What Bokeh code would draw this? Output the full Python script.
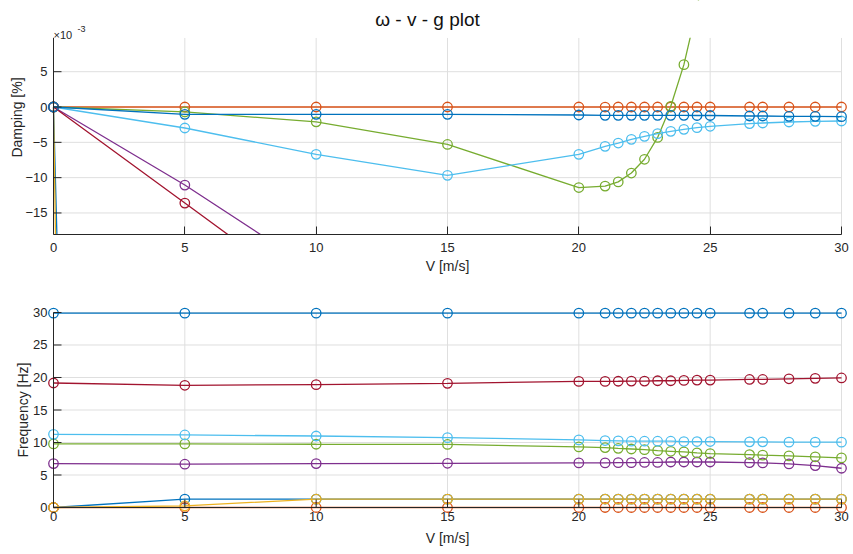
from bokeh.plotting import figure
from bokeh.layouts import column
from bokeh.models import Range1d, FixedTicker, Label
from bokeh.embed import file_html
from bokeh.resources import INLINE

# ---------------- data ----------------
V = [0, 5, 10, 15, 20, 21, 21.5, 22, 22.5, 23, 23.5, 24, 24.5, 25, 26.5, 27, 28, 29, 30]

# damping, in units of 1e-3 %
damp_blue_a = [0, -700, -1350, -2000, -2600, -2700, -2750, -2800, -2850, -2900, -2950, -3000, -3050, -3100, -3250, -3300, -3400, -3500, -3600]
damp_orange = [0, 0, 0, 0, 0, 0, 0, 0, 0, 0, 0, 0, 0, 0, 0, 0, 0, 0, 0]
damp_yellow = [0, -1200, -2300, -3300, -4200, -4350, -4450, -4500, -4600, -4700, -4750, -4800, -4900, -5000, -5200, -5300, -5450, -5600, -5800]
damp_purple = [0, -11.05, -23.2, -35.0, -47.0, -49.5, -50.5, -52.0, -53.0, -54.0, -55.0, -56.5, -57.5, -59.0, -62.0, -63.0, -65.5, -68.0, -70.0]
damp_green = [0, -0.7, -2.1, -5.3, -11.4, -11.2, -10.6, -9.35, -7.4, -4.3, 0.1, 6.0, 14.0, 24.0, 60.0, 72.0, 95.0, 120.0, 145.0]
damp_lblue = [0, -2.97, -6.7, -9.67, -6.7, -5.57, -5.1, -4.58, -4.15, -3.77, -3.44, -3.16, -2.92, -2.73, -2.35, -2.26, -2.12, -2.03, -1.98]
damp_dred = [0, -13.6, -27.2, -40.0, -53.0, -55.5, -57.0, -58.0, -59.5, -60.5, -62.0, -63.0, -64.5, -65.5, -69.0, -70.0, -72.5, -75.0, -77.5]
damp_blue_b = [0, -1.04, -1.04, -1.04, -1.13, -1.18, -1.18, -1.18, -1.18, -1.18, -1.18, -1.18, -1.2, -1.2, -1.27, -1.27, -1.32, -1.32, -1.37]

# frequency [Hz]
freq_blue_a = [0, 1.28, 1.3, 1.3, 1.3, 1.3, 1.3, 1.3, 1.3, 1.3, 1.3, 1.3, 1.3, 1.3, 1.3, 1.3, 1.3, 1.3, 1.3]
freq_orange = [0, 0, 0, 0, 0, 0, 0, 0, 0, 0, 0, 0, 0, 0, 0, 0, 0, 0, 0]
freq_yellow = [0, 0.25, 1.3, 1.3, 1.3, 1.3, 1.3, 1.3, 1.3, 1.3, 1.3, 1.3, 1.3, 1.3, 1.3, 1.3, 1.3, 1.3, 1.3]
freq_purple = [6.76, 6.66, 6.76, 6.8, 6.86, 6.86, 6.9, 6.9, 6.93, 6.93, 7.0, 7.0, 7.0, 7.0, 6.9, 6.86, 6.7, 6.45, 6.04]
freq_green = [9.78, 9.78, 9.73, 9.7, 9.32, 9.22, 9.1, 9.0, 8.9, 8.75, 8.65, 8.55, 8.4, 8.3, 8.15, 8.05, 7.94, 7.8, 7.63]
freq_lblue = [11.26, 11.16, 11.0, 10.75, 10.4, 10.3, 10.25, 10.2, 10.2, 10.2, 10.2, 10.15, 10.15, 10.15, 10.1, 10.1, 10.05, 10.05, 10.05]
freq_dred = [19.15, 18.8, 18.9, 19.1, 19.4, 19.4, 19.42, 19.45, 19.45, 19.5, 19.5, 19.55, 19.6, 19.6, 19.7, 19.7, 19.8, 19.87, 19.93]
freq_blue_b = [29.9, 29.9, 29.9, 29.9, 29.9, 29.9, 29.9, 29.9, 29.9, 29.9, 29.9, 29.9, 29.9, 29.9, 29.9, 29.9, 29.9, 29.9, 29.9]

x_ticks = [0, 5, 10, 15, 20, 25, 30]
damp_ticks = [-15, -10, -5, 0, 5]
freq_ticks = [0, 5, 10, 15, 20, 25, 30]
x_lim = (0, 30)
damp_lim = (-18.05, 9.8)
freq_lim = (0, 30)

colors = ["#0072BD", "#D95319", "#EDB120", "#7E2F8E", "#77AC30", "#4DBEEE", "#A2142F", "#0072BD"]
damp_series = [damp_blue_a, damp_orange, damp_yellow, damp_purple, damp_green, damp_lblue, damp_dred, damp_blue_b]
freq_series = [freq_blue_a, freq_orange, freq_yellow, freq_purple, freq_green, freq_lblue, freq_dred, freq_blue_b]

# ---------------- layout ----------------
W = 853
AX_L, AX_R = 53, 841          # pixel of x=0 and x=30
PAD = 6                       # frame padding so end markers aren't clipped
TICK = 8                      # tick length, px
FONT = "Liberation Sans"
TXT = "#262626"
GRID = "#DFDFDF"

XUPP = (x_lim[1] - x_lim[0]) / (AX_R - AX_L)   # x units per px
X_RANGE = (x_lim[0] - PAD * XUPP, x_lim[1] + PAD * XUPP)

# top axes: box from y=37.3 px to 234 px, frame from 0 to 234
T_TOP, T_BOT = 37.3, 234.0
T_UPP = (damp_lim[1] - damp_lim[0]) / (T_BOT - T_TOP)
T_RANGE = (damp_lim[0], damp_lim[1] + T_TOP * T_UPP)

# bottom axes: box from 311.7 px to 507 px (figure starts at 290)
B_TOP, B_BOT = 311.7 - 290, 507 - 290
B_UPP = (freq_lim[1] - freq_lim[0]) / (B_BOT - B_TOP)
B_RANGE = (freq_lim[0] - PAD * B_UPP, freq_lim[1] + PAD * B_UPP)


def base_axes(p):
    p.xgrid.visible = False
    p.ygrid.visible = False
    p.outline_line_color = None
    for ax in (p.xaxis[0], p.yaxis[0]):
        ax.axis_line_color = None
        ax.major_tick_line_color = None
        ax.minor_tick_line_color = None
        ax.major_tick_out = 0
        ax.major_tick_in = 0
        ax.minor_tick_out = 0
        ax.minor_tick_in = 0
        ax.major_label_text_font = FONT
        ax.major_label_text_font_size = "13px"
        ax.major_label_text_color = TXT
        ax.axis_label_text_font = FONT
        ax.axis_label_text_font_size = "14px"
        ax.axis_label_text_font_style = "normal"
        ax.axis_label_text_color = TXT
    p.xaxis.axis_label = "V [m/s]"
    p.xaxis.ticker = FixedTicker(ticks=x_ticks)
    p.xaxis.bounds = x_lim


def grid(p, yticks, ylim):
    n, m = len(x_ticks), len(yticks)
    p.segment(x0=x_ticks, y0=[ylim[0]] * n, x1=x_ticks, y1=[ylim[1]] * n, line_color=GRID, line_width=1)
    p.segment(x0=[x_lim[0]] * m, y0=yticks, x1=[x_lim[1]] * m, y1=yticks, line_color=GRID, line_width=1)


def y_axis_manual(p, yticks, ylim):
    m = len(yticks)
    p.segment(x0=[x_lim[0]], y0=[ylim[0]], x1=[x_lim[0]], y1=[ylim[1]], line_color=TXT, line_width=1)
    p.segment(x0=[x_lim[0]] * m, y0=yticks, x1=[x_lim[0] + TICK * XUPP] * m, y1=yticks,
              line_color=TXT, line_width=1)


def draw(p, series):
    for ys, c in zip(series, colors):
        p.line(V, ys, line_color=c, line_width=1.3)
        p.scatter(V, ys, marker="circle", size=9.5, fill_color=None, line_color=c, line_width=1.3)


# ---- top: damping ----
p1 = figure(width=W, height=290, output_backend="svg", toolbar_location=None,
            x_range=Range1d(*X_RANGE), y_range=Range1d(*T_RANGE),
            min_border_left=AX_L - PAD, min_border_right=W - AX_R - PAD,
            min_border_top=0, min_border_bottom=290 - int(T_BOT))
base_axes(p1)
grid(p1, damp_ticks, damp_lim)
draw(p1, damp_series)
# blank out the area above the axes box (title zone)
p1.quad(left=[X_RANGE[0]], right=[X_RANGE[1]], bottom=[damp_lim[1]], top=[T_RANGE[1]],
        fill_color="white", line_color=None)
y_axis_manual(p1, damp_ticks, damp_lim)
# x axis of top plot sits on the frame bottom
p1.xaxis.axis_line_color = TXT
p1.xaxis.major_tick_line_color = TXT
p1.xaxis.major_tick_in = TICK
p1.xaxis.major_tick_out = 0
p1.xaxis.major_label_standoff = 8
p1.xaxis.axis_label_standoff = 3
p1.yaxis.ticker = FixedTicker(ticks=damp_ticks)
p1.yaxis.bounds = damp_lim
p1.yaxis.axis_label = "Damping [%]"
p1.yaxis.major_label_standoff = 0
p1.yaxis.axis_label_standoff = -3

title_x = x_lim[0] + (427 - AX_L) * XUPP
p1.add_layout(Label(x=title_x, y=damp_lim[1], y_offset=18, text="\u03c9 - v - g plot",
                    text_font=FONT, text_font_size="19px", text_color="#111111",
                    text_align="center", text_baseline="alphabetic"))
p1.add_layout(Label(x=x_lim[0], y=damp_lim[1], x_offset=0, y_offset=3, text="\u00d710",
                    text_font=FONT, text_font_size="11px", text_color=TXT, text_baseline="alphabetic"))
p1.add_layout(Label(x=x_lim[0], y=damp_lim[1], x_offset=24, y_offset=9, text="-3",
                    text_font=FONT, text_font_size="9px", text_color=TXT, text_baseline="alphabetic"))

# ---- bottom: frequency ----
p2 = figure(width=W, height=264, output_backend="svg", toolbar_location=None,
            x_range=Range1d(*X_RANGE), y_range=Range1d(*B_RANGE),
            min_border_left=AX_L - PAD, min_border_right=W - AX_R - PAD,
            min_border_top=int(round(B_TOP - PAD)), min_border_bottom=264 - int(round(B_BOT + PAD)))
base_axes(p2)
grid(p2, freq_ticks, freq_lim)
draw(p2, freq_series)
y_axis_manual(p2, freq_ticks, freq_lim)
k = len(x_ticks)
p2.segment(x0=[x_lim[0]], y0=[freq_lim[0]], x1=[x_lim[1]], y1=[freq_lim[0]], line_color=TXT, line_width=1)
p2.segment(x0=x_ticks, y0=[freq_lim[0]] * k, x1=x_ticks, y1=[freq_lim[0] + TICK * B_UPP] * k,
           line_color=TXT, line_width=1)
p2.xaxis.major_label_standoff = -2
p2.xaxis.axis_label_standoff = 6
p2.yaxis.ticker = FixedTicker(ticks=freq_ticks)
p2.yaxis.bounds = freq_lim
p2.yaxis.axis_label = "Frequency [Hz]"
p2.yaxis.major_label_standoff = 0
p2.yaxis.axis_label_standoff = -1

layout = column(p1, p2, spacing=0)
open("out.html", "w").write(file_html(layout, INLINE))
